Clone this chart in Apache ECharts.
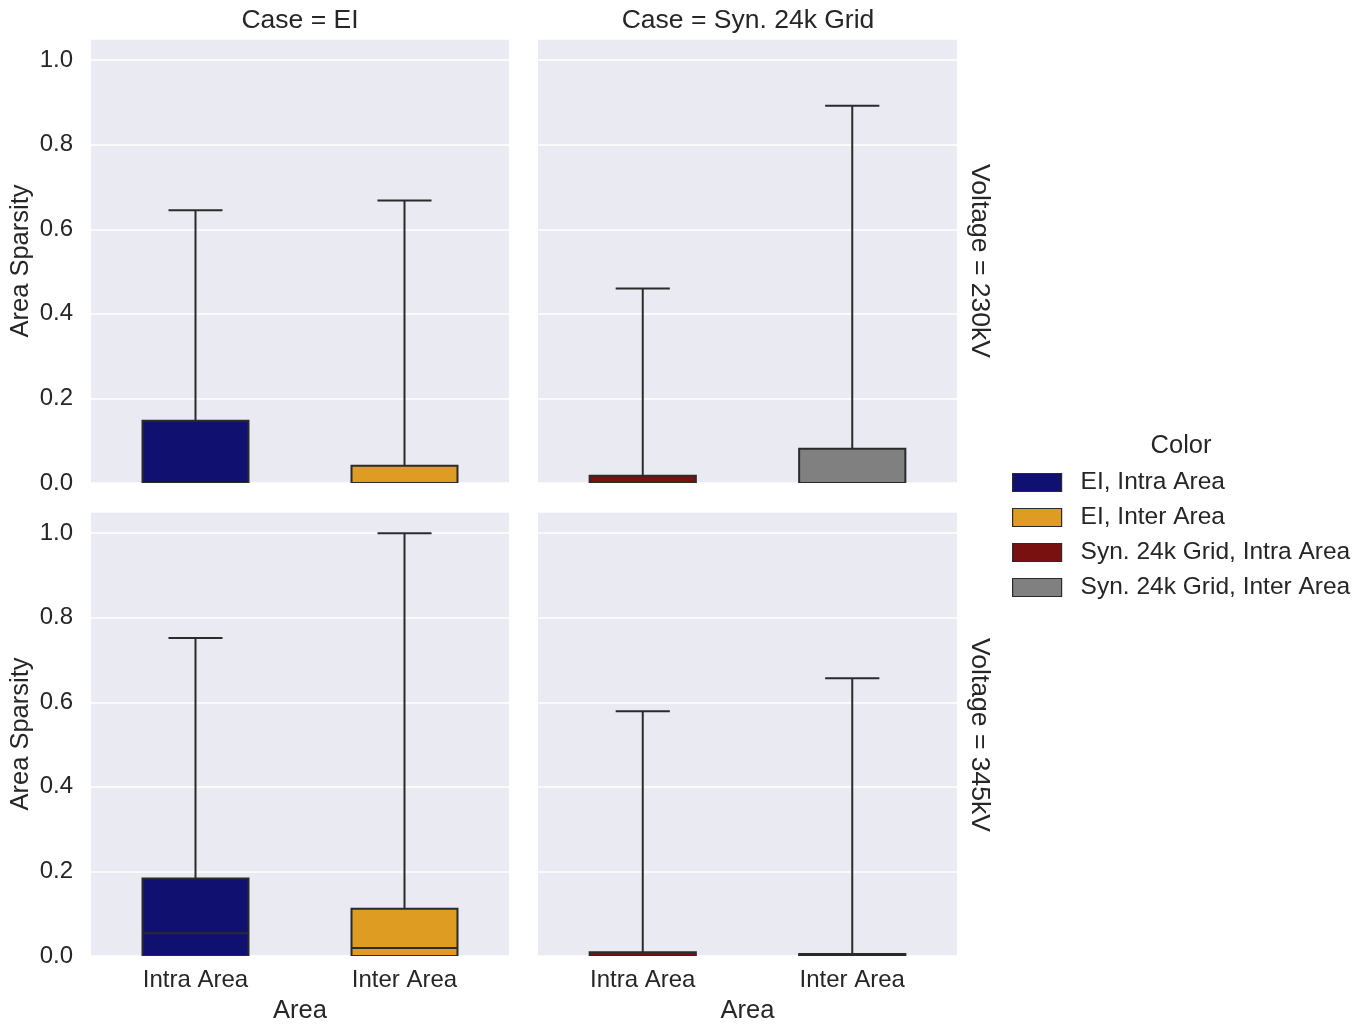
<!DOCTYPE html>
<html>
<head>
<meta charset="utf-8">
<title>Area Sparsity by Case and Voltage</title>
<script src="https://cdn.jsdelivr.net/npm/echarts@6/dist/echarts.min.js"></script>
<style>
  html, body { margin: 0; padding: 0; background: #ffffff; }
  #chart { width: 1364px; height: 1025px; }
</style>
</head>
<body>
<div id="chart"></div>
<script>
// Facet levels
const areas = ['Intra Area', 'Inter Area'];
const cases = ['EI', 'Syn. 24k Grid'];
const voltages = ['230kV', '345kV'];
const colorNames = ['EI, Intra Area', 'EI, Inter Area', 'Syn. 24k Grid, Intra Area', 'Syn. 24k Grid, Inter Area'];
const colorFills = ['#101070', '#df9c22', '#7a1111', '#808080'];

// Box statistics per area: [min, q1, median, q3, max]
const ei230 = [[0, 0, 0, 0.147, 0.645], [0, 0, 0, 0.041, 0.668]];
const syn230 = [[0, 0, 0, 0.017, 0.460], [0, 0, 0, 0.081, 0.892]];
const ei345 = [[0, 0, 0.054, 0.183, 0.752], [0, 0, 0.019, 0.112, 1.0]];
const syn345 = [[0, 0, 0, 0.009, 0.579], [0, 0, 0, 0.005, 0.657]];

const yTicks = { min: 0, max: 1.05, interval: 0.2 };

const LINE = '#2b2b2b';
const TEXT = '#262626';
const FONT = '"Liberation Sans", Arial, sans-serif';

// Panel order: row = voltage, column = case
const panels = [
  { stats: ei230, caseIdx: 0, row: 0 },
  { stats: syn230, caseIdx: 1, row: 0 },
  { stats: ei345, caseIdx: 0, row: 1 },
  { stats: syn345, caseIdx: 1, row: 1 }
];

const grids = [
  { left: 91, top: 39, width: 418, height: 444 },
  { left: 538, top: 39, width: 419, height: 444 },
  { left: 91, top: 512, width: 418, height: 445 },
  { left: 538, top: 512, width: 419, height: 445 }
].map(g => Object.assign({ show: true, backgroundColor: '#eaeaf2', borderWidth: 0 }, g));

const xAxes = panels.map((p, i) => ({
  type: 'category',
  gridIndex: i,
  data: areas,
  boundaryGap: true,
  axisLine: { show: false },
  axisTick: { show: false },
  splitLine: { show: false },
  axisLabel: { show: p.row === 1, fontSize: 24, color: TEXT, fontFamily: FONT, margin: 12 },
  name: p.row === 1 ? 'Area' : '',
  nameLocation: 'middle',
  nameGap: 42,
  nameTextStyle: { fontSize: 25.5, color: TEXT, fontFamily: FONT }
}));

const yAxes = panels.map((p, i) => ({
  type: 'value',
  gridIndex: i,
  min: yTicks.min,
  max: yTicks.max,
  interval: yTicks.interval,
  axisLine: { show: false },
  axisTick: { show: false },
  splitLine: { show: true, lineStyle: { color: '#ffffff', width: 1.6 } },
  axisLabel: {
    show: p.caseIdx === 0,
    fontSize: 24, color: TEXT, fontFamily: FONT, margin: 18,
    showMaxLabel: false,
    formatter: v => v.toFixed(1)
  },
  name: p.caseIdx === 0 ? 'Area Sparsity' : '',
  nameLocation: 'middle',
  nameGap: 57,
  nameTextStyle: { fontSize: 25.5, color: TEXT, fontFamily: FONT }
}));

// Box with whiskers: box half of the band, caps half of the box
function renderBox(params, api) {
  const cat = api.value(0);
  const vMin = api.value(1), q1 = api.value(2), med = api.value(3), q3 = api.value(4), vMax = api.value(5);
  const band = api.size([1, 0])[0];
  const bw = band * 0.507;
  const cw = bw * 0.51;
  const cx = api.coord([cat, 0])[0];
  const y = v => api.coord([cat, v])[1];
  const lineStyle = { stroke: LINE, lineWidth: 2, fill: null };
  const children = [];
  children.push({ type: 'line', shape: { x1: cx, y1: y(q3), x2: cx, y2: y(vMax) }, style: lineStyle });
  children.push({ type: 'line', shape: { x1: cx - cw / 2, y1: y(vMax), x2: cx + cw / 2, y2: y(vMax) }, style: lineStyle });
  children.push({ type: 'line', shape: { x1: cx, y1: y(q1), x2: cx, y2: y(vMin) }, style: lineStyle });
  children.push({ type: 'line', shape: { x1: cx - cw / 2, y1: y(vMin), x2: cx + cw / 2, y2: y(vMin) }, style: lineStyle });
  children.push({
    type: 'rect',
    shape: { x: cx - bw / 2, y: y(q3), width: bw, height: y(q1) - y(q3) },
    style: { fill: api.visual('color'), stroke: LINE, lineWidth: 2 }
  });
  children.push({ type: 'line', shape: { x1: cx - bw / 2, y1: y(med), x2: cx + bw / 2, y2: y(med) }, style: lineStyle });
  return { type: 'group', children: children };
}

const series = [];
panels.forEach((p, i) => {
  p.stats.forEach((s, a) => {
    const ci = p.caseIdx * 2 + a;
    series.push({
      type: 'custom',
      name: colorNames[ci],
      xAxisIndex: i,
      yAxisIndex: i,
      clip: true,
      itemStyle: { color: colorFills[ci], borderColor: LINE, borderWidth: 1.5 },
      encode: { x: 0, y: [1, 2, 3, 4, 5] },
      data: [[a].concat(s)],
      renderItem: renderBox
    });
  });
});

const titleStyle = { fontSize: 26.5, fill: TEXT, fontFamily: FONT };

// Facet titles, row labels and legend heading
function label(text, x, y, rotation, size) {
  return {
    type: 'text', x: x, y: y, rotation: rotation || 0,
    style: Object.assign({}, titleStyle, { text: text, x: 0, y: 0, align: 'center', verticalAlign: 'middle', fontSize: size || titleStyle.fontSize })
  };
}

const graphics = [
  label('Case = ' + cases[0], 300, 21),
  label('Case = ' + cases[1], 748, 21),
  label('Voltage = ' + voltages[0], 979, 261, -Math.PI / 2),
  label('Voltage = ' + voltages[1], 979, 735, -Math.PI / 2),
  label('Color', 1181, 446, 0, 25.5)
];

const option = {
  animation: false,
  backgroundColor: '#ffffff',
  grid: grids,
  xAxis: xAxes,
  yAxis: yAxes,
  series: series,
  graphic: graphics,
  legend: {
    data: colorNames,
    orient: 'vertical',
    left: 1007,
    top: 465,
    itemWidth: 49,
    itemHeight: 18,
    itemGap: 10,
    icon: 'rect',
    selectedMode: false,
    itemStyle: { borderColor: LINE, borderWidth: 1.2 },
    textStyle: { fontSize: 24.5, color: TEXT, fontFamily: FONT, padding: [0, 0, 0, 14] }
  }
};

const chart = echarts.init(document.getElementById('chart'), null, { renderer: 'canvas' });
chart.setOption(option);
</script>
</body>
</html>
